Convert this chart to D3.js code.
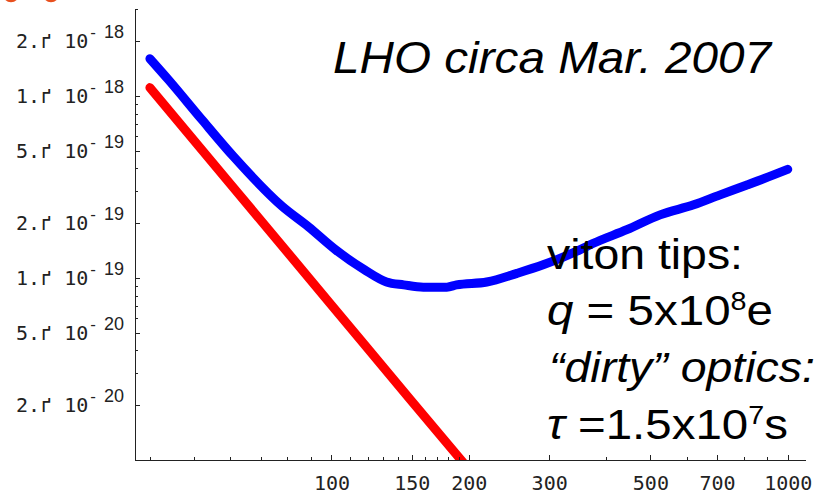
<!DOCTYPE html>
<html lang="en">
<head>
  <meta charset="UTF-8">
  <title>LHO circa Mar. 2007</title>
  <script src="https://d3js.org/d3.v7.min.js"></script>
  <style>
    body { margin: 0; background: #fff; }
    .axis path, .axis line { stroke: #222; stroke-width: 1; shape-rendering: crispEdges; }
    .axis text { font-family: "DejaVu Sans Mono", monospace; font-size: 20px; fill: #222; }
    .note { font-family: "Liberation Sans", Arial, sans-serif; fill: #000; }
  </style>
</head>
<body>
<svg id="chart" width="823" height="495"></svg>

<script>
// measured curve (blue) and charge model (red), log-log
const blueFreq = [40, 44, 52, 61, 78, 89, 102, 118, 132, 144, 159, 179, 188, 219, 255, 291, 351, 375, 444, 525, 622, 711, 814, 931, 1000];
const blueASD  = [1.60e-18, 1.22e-18, 7.4e-19, 4.64e-19, 2.47e-19, 1.91e-19, 1.43e-19, 1.11e-19, 9.5e-20, 9.16e-20,
                  8.9e-20, 8.9e-20, 9.16e-20, 9.5e-20, 1.06e-19, 1.18e-19, 1.43e-19, 1.55e-19, 1.84e-19, 2.22e-19,
                  2.52e-19, 2.86e-19, 3.24e-19, 3.68e-19, 3.95e-19];
const redFreq = [40, 60, 100, 150, 200];
const redASD  = [1.11e-18, 3.29e-19, 7.1e-20, 2.1e-20, 8.9e-21];

const xMajor = [100, 150, 200, 300, 500, 700, 1000];
const xMinor = [40, 50, 60, 70, 80, 90, 110, 120, 130, 140, 160, 170, 180, 190, 400, 600, 800, 900];
const yMajor = [2e-18, 1e-18, 5e-19, 2e-19, 1e-19, 5e-20, 2e-20];
const yMinor = [3e-18, 9e-19, 8e-19, 7e-19, 6e-19, 4e-19, 3e-19, 9e-20, 8e-20, 7e-20, 6e-20, 4e-20, 3e-20];
const yMantissa = ["2.", "1.", "5.", "2.", "1.", "5.", "2."];
const yExponent = ["18", "18", "19", "19", "19", "20", "20"];

const title = "LHO circa Mar. 2007";

const svg = d3.select("#chart");

const x = d3.scaleLog().domain([37.1, 1091]).range([135, 805]);
const y = d3.scaleLog().domain([1e-20, 3e-18]).range([460, 9]);

// clip the traces to the frame
svg.append("clipPath").attr("id", "plot")
  .append("rect")
    .attr("x", x.range()[0]).attr("y", y.range()[1])
    .attr("width", x.range()[1] - x.range()[0])
    .attr("height", y.range()[0] - y.range()[1]);

const line = d3.line()
    .curve(d3.curveMonotoneX)
    .x(d => x(d[0]))
    .y(d => y(d[1]));

const traces = svg.append("g").attr("clip-path", "url(#plot)");

traces.append("path")
    .datum(redFreq.map((f, i) => [f, redASD[i]]))
    .attr("d", line)
    .attr("fill", "none")
    .attr("stroke", "#ff0000")
    .attr("stroke-width", 9)
    .attr("stroke-linecap", "round")
    .attr("stroke-linejoin", "round");

traces.append("path")
    .datum(blueFreq.map((f, i) => [f, blueASD[i]]))
    .attr("d", line)
    .attr("fill", "none")
    .attr("stroke", "#0000ff")
    .attr("stroke-width", 9)
    .attr("stroke-linecap", "round")
    .attr("stroke-linejoin", "round");

// axes (ticks point inward)
svg.append("g").attr("class", "axis")
    .attr("transform", `translate(0,${y.range()[0]})`)
    .call(d3.axisBottom(x).tickValues(xMinor).tickSizeInner(-3).tickSizeOuter(0).tickFormat(""));

svg.append("g").attr("class", "axis")
    .attr("transform", `translate(0,${y.range()[0]})`)
    .call(d3.axisBottom(x).tickValues(xMajor).tickSizeInner(-5).tickSizeOuter(0)
      .tickPadding(16).tickFormat(d3.format("d")));

svg.append("g").attr("class", "axis")
    .attr("transform", `translate(${x.range()[0]},0)`)
    .call(d3.axisLeft(y).tickValues(yMinor).tickSizeInner(-3).tickSizeOuter(0).tickFormat(""));

const yAxis = svg.append("g").attr("class", "axis")
    .attr("transform", `translate(${x.range()[0]},0)`)
    .call(d3.axisLeft(y).tickValues(yMajor).tickSizeInner(-5).tickSizeOuter(0)
      .tickPadding(11).tickFormat(""));

yAxis.selectAll(".tick text").each(function(d, i) {
  const t = d3.select(this);
  t.append("tspan").text(yMantissa[i] + "ґ 10");
  t.append("tspan").attr("dy", -10).attr("font-size", 16).text("-");
  t.append("tspan").attr("dx", 6)
    .style("font-family", "'Liberation Sans', Arial, sans-serif")
    .attr("font-size", 18).text(yExponent[i]);
});

// annotations
svg.append("text").attr("class", "note")
    .attr("x", 333).attr("y", 73)
    .attr("font-size", 44).attr("font-style", "italic")
    .attr("textLength", 438).attr("lengthAdjust", "spacingAndGlyphs")
    .text(title);

const notes = svg.append("g").attr("class", "note").attr("font-size", 43);

notes.append("text").attr("x", 547).attr("y", 269)
    .attr("textLength", 196).attr("lengthAdjust", "spacingAndGlyphs")
    .text("viton tips:");

const q = notes.append("text").attr("x", 547).attr("y", 325)
    .attr("textLength", 226).attr("lengthAdjust", "spacingAndGlyphs");
q.append("tspan").attr("font-style", "italic").text("q");
q.append("tspan").text(" = 5x10");
q.append("tspan").attr("font-size", 26).attr("dy", -15).text("8");
q.append("tspan").attr("dy", 15).text("e");

notes.append("text").attr("x", 549).attr("y", 382)
    .attr("font-style", "italic")
    .attr("textLength", 266).attr("lengthAdjust", "spacingAndGlyphs")
    .text("\u201Cdirty\u201D optics:");

const tau = notes.append("text").attr("x", 547).attr("y", 439)
    .attr("textLength", 241).attr("lengthAdjust", "spacingAndGlyphs");
tau.append("tspan").attr("font-style", "italic").text("τ");
tau.append("tspan").text(" =1.5x10");
tau.append("tspan").attr("font-size", 26).attr("dy", -15).text("7");
tau.append("tspan").attr("dy", 15).text("s");

// bits of the slide heading cut off at the top edge
svg.append("g").attr("fill", "none").attr("stroke", "#e8501e").attr("stroke-width", 2.5)
  .selectAll("circle").data([11, 51]).join("circle")
    .attr("cx", d => d).attr("cy", -6).attr("r", 7);
</script>
</body>
</html>
